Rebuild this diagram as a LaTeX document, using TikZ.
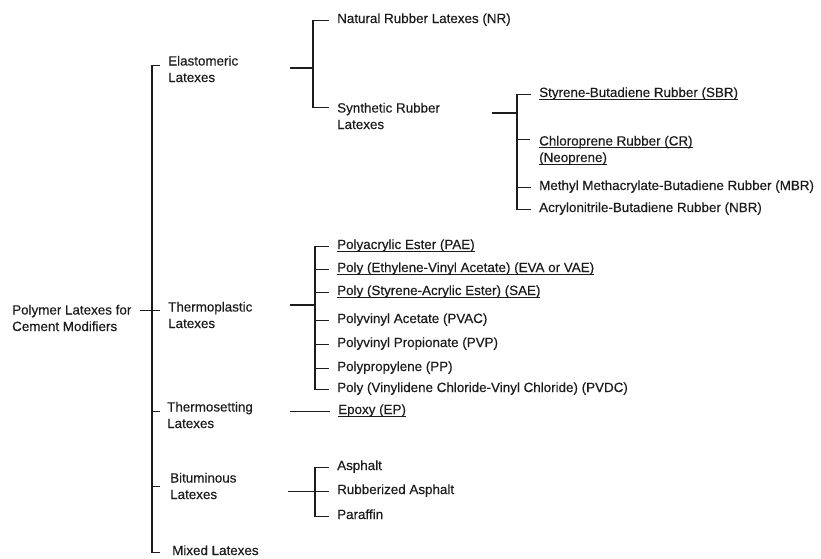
\documentclass[tikz,border=0pt]{standalone}
\usepackage{fontspec}
\setmainfont{Liberation Sans}
\newfontfamily\scanfont{Liberation Sans}[FakeBold=0.35]
\usepackage{tikz}
\usetikzlibrary{calc}
\definecolor{ink}{HTML}{1C1C1C}
\newcommand{\uln}[1]{\setbox0\hbox{#1}\rlap{\rule[-2.8pt]{\wd0}{0.9pt}}\box0}
\tikzset{
  lbl/.style={anchor=base west,inner sep=0pt,align=left,text=ink,
    font=\scanfont\fontsize{13.4}{16.5}\selectfont},
  tree/.style={draw=ink,line width=1.1pt},
}
\begin{document}
\begin{tikzpicture}[x=1pt,y=-1pt]
  \useasboundingbox (0,0) rectangle (821,558);
  % root and first level (base = last line)
  \node[lbl] (root) at (12,331) {Polymer Latexes for\\Cement Modifiers};
  \node[lbl] (elast) at (168,82) {Elastomeric\\Latexes};
  \node[lbl] (tplas) at (168,328) {Thermoplastic\\Latexes};
  \node[lbl] (tset) at (167,428) {Thermosetting\\Latexes};
  \node[lbl] (bitum) at (170,499) {Bituminous\\Latexes};
  \node[lbl] (mixed) at (172,555) {Mixed Latexes};
  % elastomeric branch
  \node[lbl] (nr) at (337,23) {Natural Rubber Latexes (NR)};
  \node[lbl] (synth) at (337,129) {Synthetic Rubber\\Latexes};
  \node[lbl] (sbr) at (539,97) {\uln{Styrene-Butadiene Rubber (SBR)}};
  \node[lbl] (cr) at (539,162) {\uln{Chloroprene Rubber (CR)}\\\uln{(Neoprene)}};
  \node[lbl] (mbr) at (539,190) {Methyl Methacrylate-Butadiene Rubber (MBR)};
  \node[lbl] (nbr) at (539,212) {Acrylonitrile-Butadiene Rubber (NBR)};
  % thermoplastic branch
  \node[lbl] (pae) at (337,249) {\uln{Polyacrylic Ester (PAE)}};
  \node[lbl] (eva) at (337,272) {\uln{Poly (Ethylene-Vinyl Acetate) (EVA or VAE)}};
  \node[lbl] (sae) at (337,295) {\uln{Poly (Styrene-Acrylic Ester) (SAE)}};
  \node[lbl] (pvac) at (337,323) {Polyvinyl Acetate (PVAC)};
  \node[lbl] (pvp) at (337,347) {Polyvinyl Propionate (PVP)};
  \node[lbl] (pp) at (337,371) {Polypropylene (PP)};
  \node[lbl] (pvdc) at (337,392) {Poly (Vinylidene Chloride-Vinyl Chloride) (PVDC)};
  % thermosetting and bituminous branches
  \node[lbl] (ep) at (338,414) {\uln{Epoxy (EP)}};
  \node[lbl] (asph) at (337,470) {Asphalt};
  \node[lbl] (rasph) at (337,494) {Rubberized Asphalt};
  \node[lbl] (paraf) at (337,519) {Paraffin};

  % junctions of the brackets
  \coordinate (trunk) at (152,0);
  \coordinate (jel) at (313,68);
  \coordinate (jsy) at (517,113);
  \coordinate (jtp) at (315,305);
  \coordinate (jbi) at (315,488);

  % main bracket
  \draw[tree] (root.north east) ++(8,6) -- ++(15,0);
  \draw[tree] (elast.north west) ++(-8,10) -| (trunk |- mixed.mid)
    -- ([xshift=-12pt]mixed.mid west);
  \draw[tree] (trunk |- tplas.north) ++(0,9) -- ++(8,0);
  \draw[tree] (trunk |- tset.north) ++(0,10) -- ++(8,0);
  \draw[tree] (trunk |- bitum.north) ++(0,14) -- ++(8,0);
  % elastomeric
  \draw[tree] ([xshift=-8pt]nr.mid west) -| (jel) |- ([xshift=-8pt,yshift=-5pt]synth.north west);
  \draw[tree] (jel) -- ++(-23,0);
  \draw[tree] ([xshift=-8pt]sbr.mid west) -| (jsy) |- ([xshift=-8pt]nbr.mid west);
  \draw[tree] (jsy) -- ++(-25,0);
  \draw[tree] (jsy |- cr.north) ++(0,4) -- ++(13,0);
  \draw[tree] (jsy |- mbr.mid) -- ([xshift=-8pt]mbr.mid west);
  % thermoplastic
  \draw[tree] ([xshift=-8pt]pae.mid west) -| (jtp) |- ([xshift=-8pt]pvdc.mid west);
  \draw[tree] (jtp) -- ++(-25,0);
  \foreach \n in {eva,sae,pvac,pvp,pp}
    \draw[tree] (jtp |- \n.mid) -- ([xshift=-8pt]\n.mid west);
  % thermosetting, bituminous
  \draw[tree] ([xshift=-48pt]ep.mid west) -- ([xshift=-8pt]ep.mid west);
  \draw[tree] ([xshift=-8pt]asph.mid west) -| (jbi) |- ([xshift=-8pt]paraf.mid west);
  \draw[tree] ([xshift=-49pt]rasph.mid west) -- ([xshift=-8pt]rasph.mid west);
\end{tikzpicture}
\end{document}
